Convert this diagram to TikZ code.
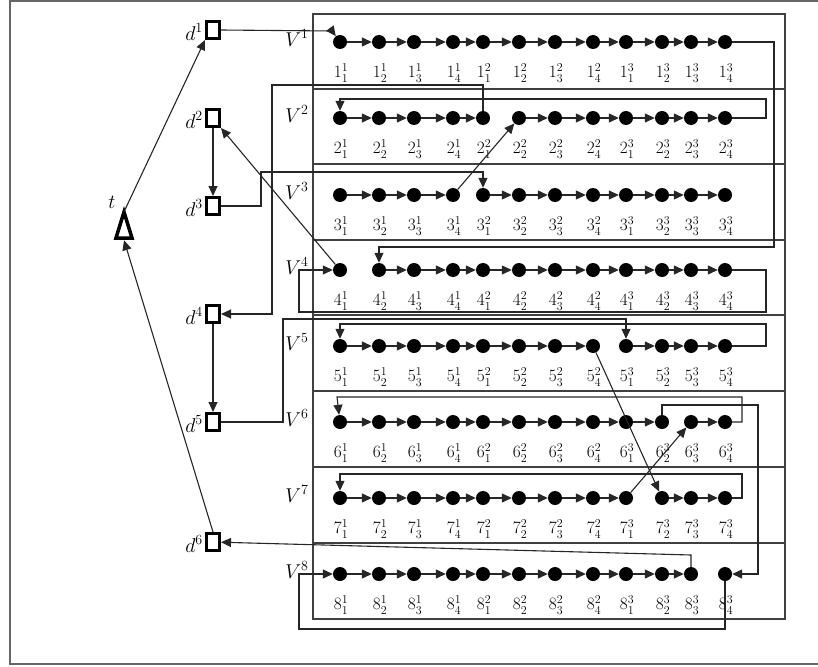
\documentclass[tikz,border=0pt]{standalone}
\usepackage{fix-cm}
\usetikzlibrary{arrows.meta}
\begin{document}
\begin{tikzpicture}[x=1pt,y=-1pt,
  dot/.style={circle,fill=black,inner sep=0pt,minimum size=14pt},
  dbox/.style={draw,line width=3pt,inner sep=0pt,minimum width=13pt,minimum height=17pt,fill=white},
  lab/.style={font=\fontsize{20}{24}\selectfont,inner sep=0pt},
  nlab/.style={font=\fontsize{17.28}{21}\selectfont,inner sep=0pt},
  wire/.style={line width=1.1pt,draw=black!85},
  arr/.style={wire,-{Triangle[length=10pt,width=9pt]}},
  sep/.style={line width=1.2pt,draw=black!75}]
\useasboundingbox (0,0) rectangle (818,666);
\draw[line width=1.6pt,black!60] (818,1) -- (10,1) -- (10,664) -- (818,664);
% main box and row separators
\draw[sep] (313,14) rectangle (785,619);
\foreach \yy in {89,164,240,315,391,467,543} \draw[sep] (313,\yy) -- (785,\yy);
% nodes and labels
\foreach \r/\y in {1/42,2/118,3/195,4/270,5/346,6/422,7/498,8/574}{
  \node[lab] (V\r) at (297,\y-4) {$V^{\r}$};
  \foreach \c/\x/\sb/\sp in {1/340/1/1,2/379/2/1,3/414/3/1,4/453/4/1,5/483/1/2,6/519/2/2,7/555/3/2,8/593/4/2,9/626/1/3,10/662/2/3,11/691/3/3,12/725/4/3}{
    \node[dot] (n\r-\c) at (\x,\y) {};
    \node[nlab] (l\r-\c) at (\x+1,\y+31) {$\r_{\sb}^{\sp}$};
  }
}
% arrows inside rows
\foreach \r/\sk in {1/0,2/5,3/4,4/1,5/8,6/10,7/9,8/11}{
  \foreach \c in {1,...,11}{
    \pgfmathtruncatemacro\nx{\c+1}
    \ifnum\c=\sk\relax\else
      \draw[arr] (n\r-\c) -- (n\r-\nx);
    \fi
  }
}
% d boxes
\foreach \i/\y in {1/30,2/118,3/206,4/314,5/422,6/542}{
  \node[dbox] (d\i) at (213,\y) {};
  \node[lab,anchor=east] (dl\i) at (203,\y+2) {$d^{\i}$};
}
% t
\node[minimum width=20pt,minimum height=28pt,inner sep=0pt] (t) at (124,226) {};
\draw[line width=3.5pt,line join=miter] (124,212) -- (132,238) -- (116,238) -- cycle;
\node[lab] (tl) at (112,202) {$t$};
% connectors on the left
\draw[arr] (t.north) -- (d1.south west);
\draw[arr] (d6.north) -- (t.south);
\draw[arr] (d2) -- (d3);
\draw[arr] (d4) -- (d5);
\draw[arr] (n4-1) -- (d2.south east);
\draw[arr] (d1.east) -- (332,31) -- (n1-1);
% wires
\draw[arr] (n1-12) -- (774,42) -- (774,247) -- (n4-2 |- 0,247) -- (n4-2);
\draw[arr] (n2-12) -- (766,118) -- (766,99) -- (n2-1 |- 0,99) -- (n2-1);
\draw[arr] (n2-5) -- (n2-5 |- 0,85) -- (272,85) -- (272,314) -- (d4);
\draw[arr] (d3) -- (261,206) -- (261,172) -- (n3-5 |- 0,172) -- (n3-5);
\draw[arr] (n3-4) -- (n2-6);
\draw[arr] (n4-12) -- (766,270) -- (766,312) -- (299,312) -- (299,270) -- (n4-1);
\draw[arr] (d5) -- (283,422) -- (283,319) -- (n5-9 |- 0,319) -- (n5-9);
\draw[arr] (n5-12) -- (766,346) -- (766,324) -- (n5-1 |- 0,324) -- (n5-1);
\draw[arr] (n5-8) -- (n7-10);
\draw[arr] (n7-9) -- (n6-11);
\draw[arr] (n6-10) -- (n6-10 |- 0,405) -- (758,405) -- (758,574) -- (n8-12);
\draw[arr] (n6-12) -- (742,422) -- (742,397) -- (337,397) -- (n6-1);
\draw[arr] (n7-12) -- (742,498) -- (742,474) -- (n7-1 |- 0,474) -- (n7-1);
\draw[arr] (n8-11) -- (n8-11 |- 0,555) -- (d6);
\draw[arr] (n8-12) -- (n8-12 |- 0,629) -- (299,629) -- (299,574) -- (n8-1);
\end{tikzpicture}
\end{document}
